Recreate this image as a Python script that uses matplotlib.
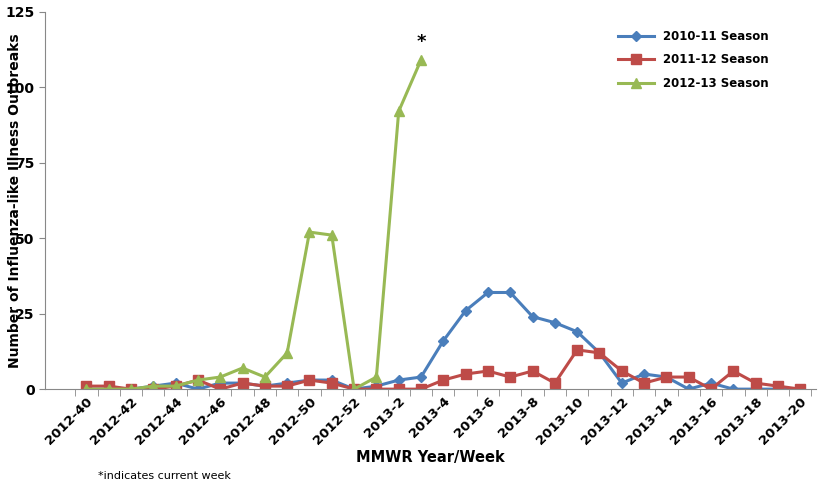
import matplotlib.pyplot as plt
import numpy as np

weeks = [f"2012-{w}" for w in range(40, 53)] + [f"2013-{w}" for w in range(1, 21)]
s2010 = [0, 0, 0, 1, 2, 0, 2, 2, 1, 2, 3, 3, 0, 1, 3, 4, 16, 26, 32, 32, 24, 22, 19, 12, 2, 5, 4, 0, 2, 0, 0, 0, 0]
s2011 = [1, 1, 0, 0, 1, 3, 0, 2, 1, 1, 3, 2, 0, 0, 0, 0, 3, 5, 6, 4, 6, 2, 13, 12, 6, 2, 4, 4, 0, 6, 2, 1, 0]
s2012 = [0, 0, 0, 1, 1, 3, 4, 7, 4, 12, 52, 51, 0, 4, 92, 109]

fig = plt.figure(figsize=(8.2, 4.84), dpi=100)
ax = fig.add_axes([0.055, 0.196, 0.94, 0.78])
x = np.arange(len(weeks))
ax.plot(x, s2010, color="#4a7ebb", marker="D", ms=5, lw=2.2, label="2010-11 Season")
ax.plot(x[:len(s2011)], s2011, color="#be4b48", marker="s", ms=7, lw=2.2, label="2011-12 Season")
ax.plot(x[:len(s2012)], s2012, color="#98b954", marker="^", ms=7, lw=2.2, label="2012-13 Season")
ax.text(x[len(s2012) - 1], s2012[-1] + 3, "*", ha="center", va="bottom", fontsize=13, fontweight="bold")

ax.set_xlim(-1.85, 32.7)
ax.set_ylim(0, 125)
ax.set_yticks(range(0, 126, 25))
ax.set_xticks(x[::2])
ax.set_xticklabels(weeks[::2], rotation=45, ha="right", rotation_mode="anchor", fontsize=9.5, fontweight="bold")
ax.set_xticks(np.arange(-0.5, len(weeks), 1), minor=True)
ax.tick_params(axis="x", which="major", length=0, pad=4)
ax.tick_params(axis="x", which="minor", length=5, direction="out", color="#888888")
ax.tick_params(axis="y", labelsize=10, length=4, color="#888888")
for lab in ax.get_yticklabels():
    lab.set_fontweight("bold")
for side in ["top", "right"]:
    ax.spines[side].set_visible(False)
ax.spines["left"].set_color("#888888")
ax.spines["bottom"].set_color("#888888")
fig.text(0.018, 0.585, "Number of Influenza-like Illness Outbreaks", rotation=90,
         ha="center", va="center", fontsize=10, fontweight="bold")
ax.set_xlabel("MMWR Year/Week", fontsize=10.5, fontweight="bold", labelpad=2)
ax.legend(loc="upper left", bbox_to_anchor=(0.73, 0.98), frameon=False,
          prop={"weight": "bold", "size": 8.5}, handlelength=3, labelspacing=0.9)
fig.text(0.12, 0.01, "*indicates current week", fontsize=8)
fig.savefig("out.png", dpi=100)
